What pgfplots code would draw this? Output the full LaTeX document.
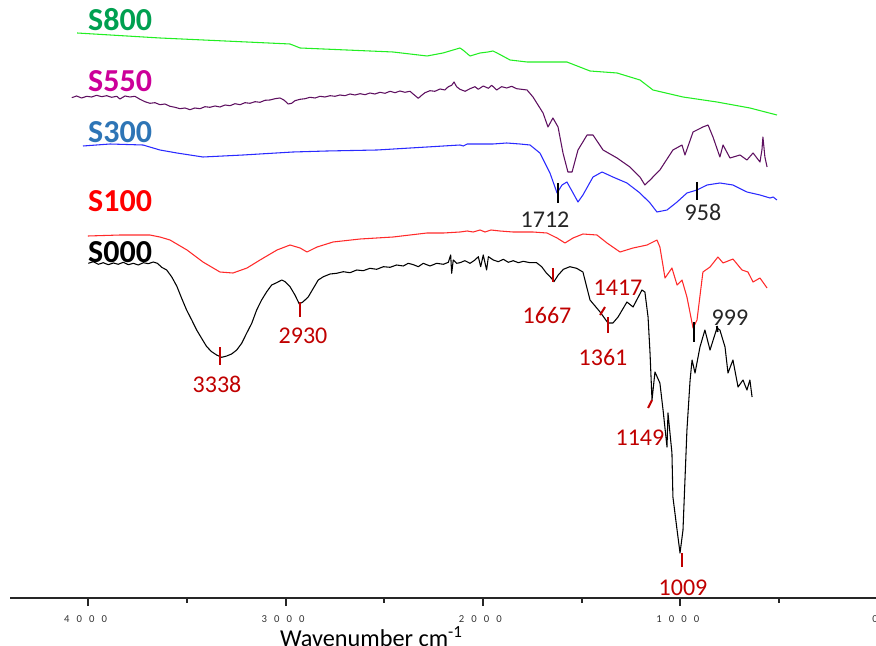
\documentclass[border=0pt]{standalone}
\usepackage{fontspec}
\setmainfont{Carlito}
\usepackage{pgfplots}
\pgfplotsset{compat=1.18}

\definecolor{lblgreen}{HTML}{00A050}
\definecolor{lblmagenta}{HTML}{CC0099}
\definecolor{lblblue}{HTML}{2E75B6}
\definecolor{peakred}{HTML}{C00000}
\definecolor{cSeight}{HTML}{22EE22}
\definecolor{cSfive}{HTML}{5E1060}
\definecolor{cSthree}{HTML}{2A2AFF}
\definecolor{cSone}{HTML}{FF2A2A}

\newcommand{\dg}{\hspace{5.3pt}}
\newcommand{\peakfont}{\fontsize{18}{18}\selectfont}
\newcommand{\namefont}{\fontsize{24}{24}\selectfont\bfseries}

% FTIR spectra, offset vertically (arbitrary transmittance units)
\pgfplotstableread{
wn y
4000 334.7
3975 336.3
3949 333.7
3924 335.3
3899 333.3
3873 335
3848 333.7
3823 335.7
3797 333.3
3772 334.7
3747 333
3721 335.3
3696 334.3
3671 336
3650 334.7
3628 330.7
3603 328
3578 321.3
3552 312
3527 299.7
3502 288
3476 278
3451 268
3426 259.7
3400 251.3
3375 246.3
3350 243
3324 240.7
3299 242
3274 244
3248 248
3223 254.7
3198 264.7
3172 274.7
3147 288
3122 298
3096 306.3
3071 313
3046 315.3
3020 318
3003 316.3
2978 311.3
2953 303
2931 294
2911 296.3
2885 301.3
2860 309.7
2835 318
2809 321.3
2775 324
2742 324.7
2708 326.3
2674 325.3
2640 328
2607 327.3
2573 329.7
2539 328.7
2505 331.3
2471 330.7
2438 333
2404 332
2379 334.7
2353 333.3
2328 331.3
2303 334.7
2269 332
2235 334.7
2201 333.7
2176 335.7
2164 343
2159 324.7
2151 338
2134 334.7
2117 335.3
2092 337.3
2066 334.7
2041 338
2024 341.3
2012 331.3
1999 343
1982 328
1973 341.3
1948 338
1923 336.3
1897 338.7
1872 335.7
1847 337.3
1821 335.3
1796 336.7
1762 335.3
1729 335.3
1703 331.3
1678 324.7
1653 319.7
1641 316.3
1619 323
1593 328.7
1560 331.3
1526 329.7
1494 326
1458 298
1407 286
1367 275
1342 275
1316 281
1271 296
1240 291
1195 308
1180 306
1164 281
1154 245
1144 198
1129 226
1104 215
1088 188
1068 151
1063 185
1043 145
1038 101
1017 68
1002 45
987 68
977 118
967 168
951 218
941 238
926 225
901 251
876 268
850 248
815 270
800 268
774 251
759 225
734 238
708 211
683 218
663 208
648 218
637 201
}\Szero

\pgfplotstableread{
wn y
4002 362
3839 363
3688 363
3637 361
3586 358
3500 348
3419 336
3333 326
3267 325
3196 330
3130 338
3044 348
2978 353
2927 350
2892 346
2841 351
2760 356
2623 359
2456 361
2284 365
2200 365
2117 366
2080 367
2050 366
2015 368
1990 366
1960 368
1914 367
1848 366
1747 366
1676 365
1625 360
1585 355
1544 360
1494 364
1423 363
1372 355
1306 346
1240 350
1169 353
1119 358
1104 351
1078 320
1043 330
1017 313
992 318
967 301
936 270
916 278
886 326
850 331
810 341
784 335
734 339
688 328
658 326
632 316
597 320
561 310
}\Sone

\pgfplotstableread{
wn y
4027 452
3890 454
3723 453
3637 448
3551 445
3419 441
3216 443
2963 446
2791 447
2537 448
2284 451
2117 453
2100 452
2080 454
1950 454
1880 455
1813 454
1762 453
1712 445
1661 425
1625 405
1600 413
1575 416
1544 405
1519 396
1494 403
1443 421
1397 426
1342 421
1271 415
1205 405
1154 395
1119 386
1068 388
1017 396
967 405
916 408
865 413
800 415
734 413
663 406
597 403
546 400
530 401
511 398
}\Sthree

\pgfplotstableread{
wn y
4084 500.3
4059 502
4034 500
4008 501.7
3983 501
3958 502.7
3932 501.3
3907 502.3
3882 500.7
3856 501.7
3840 499
3814 502
3789 501
3764 501.7
3738 498.7
3713 496.3
3688 494.7
3662 495.3
3637 493.3
3612 494
3586 491.7
3561 490.7
3536 489.3
3510 490
3485 488.3
3460 490
3434 489.3
3409 491.3
3384 490.7
3358 492
3333 491
3307 493
3282 492.3
3257 494.3
3231 493.3
3206 495.3
3181 494.7
3155 496.3
3130 495.7
3105 497.7
3080 498
3054 499.3
3029 500
3009 498
2987 494
2970 494.7
2953 497.3
2927 498.7
2902 499.3
2877 500.7
2851 500
2826 501.7
2801 501
2775 502.3
2750 501.7
2725 503
2700 502.3
2674 504
2649 503
2623 504.3
2598 503.3
2573 505
2548 504
2522 505.7
2497 504.7
2471 506.7
2446 505.3
2421 507
2396 505.7
2370 506.7
2350 503.3
2328 499.7
2311 502.7
2294 505.3
2269 507.3
2244 506.7
2218 509
2193 508
2176 511.3
2159 512.7
2147 516
2134 511.3
2117 508.7
2091 506.7
2066 509.3
2041 511.3
2024 508.7
1999 512
1973 509.7
1956 512.7
1931 508
1906 511.3
1880 510
1855 511.7
1830 509.3
1777 508
1747 501
1696 485
1671 471
1646 480
1620 471
1595 445
1570 426
1549 426
1519 448
1473 463
1443 463
1392 448
1321 440
1256 431
1205 421
1180 413
1154 418
1104 428
1038 448
992 453
977 443
936 466
886 471
860 473
835 461
800 441
784 453
749 440
698 443
663 438
632 445
597 436
587 448
582 461
572 441
561 431
}\Sfive

\pgfplotstableread{
wn y
4057 565
3637 560
2978 554
2927 550
2456 546
2284 542
2203 545
2117 550
2102 548
2066 542
2015 545
1975 546
1950 547
1929 545
1863 538
1777 536
1661 536
1575 536
1458 527
1321 525
1205 518
1139 508
987 501
815 496
648 490
511 483
}\Seight

\begin{document}
\begin{tikzpicture}
\begin{axis}[
  scale only axis,
  width=650.85pt, height=448.5pt,
  x dir=reverse,
  xmin=0, xmax=4397, ymin=0, ymax=598,
  axis x line*=bottom, axis y line=none,
  axis line style={line width=1.1pt, black!85, -},
  xtick={0,1000,2000,3000,4000},
  xticklabels={0, 1\dg0\dg0\dg0, 2\dg0\dg0\dg0, 3\dg0\dg0\dg0, 4\dg0\dg0\dg0},
  minor xtick={500,1500,2500,3500},
  tick align=outside,
  major tick length=6pt, minor tick length=3.5pt,
  tick style={black!85, line width=1.5pt},
  xticklabel style={font=\fontsize{8}{8}\selectfont, text=black!80, anchor=center, yshift=-10pt, xshift=-2pt},
  ytick=\empty,
  xlabel={Wavenumber cm\textsuperscript{-1}},
  xlabel style={font=\fontsize{18.2}{20}\selectfont, at={(axis description cs:0.4165,-0.0645)}, anchor=center},
  clip=false,
  enlargelimits=false,
  every axis plot/.append style={line width=0.8pt, line join=round},
]
\addplot[cSeight] table[x=wn, y=y] {\Seight};
\addplot[cSfive] table[x=wn, y=y] {\Sfive};
\addplot[cSthree] table[x=wn, y=y] {\Sthree};
\addplot[cSone] table[x=wn, y=y] {\Sone};
\addplot[black] table[x=wn, y=y] {\Szero};

% sample names
\node[text=lblgreen, font=\namefont] at (axis cs:3839,578) {S800};
\node[text=lblmagenta, font=\namefont] at (axis cs:3839,517) {S550};
\node[text=lblblue, font=\namefont] at (axis cs:3839,466) {S300};
\node[text=red, font=\namefont] at (axis cs:3839,397) {S100};
\node[text=black, font=\namefont] at (axis cs:3839,346) {S000};

% band markers on S000
\begin{scope}[peakred, line width=1.5pt]
\draw (axis cs:3333,251) -- (axis cs:3333,233);
\draw (axis cs:2927,296) -- (axis cs:2927,281);
\draw (axis cs:1646,330) -- (axis cs:1646,316);
\draw (axis cs:1407,283) -- (axis cs:1382,291);
\draw (axis cs:1367,281) -- (axis cs:1367,265);
\draw (axis cs:1164,190) -- (axis cs:1144,198);
\draw (axis cs:992,45) -- (axis cs:992,31);
\end{scope}
\begin{scope}[black, line width=1.5pt]
\draw (axis cs:1620,415) -- (axis cs:1620,395);
\draw (axis cs:916,416) -- (axis cs:916,398);
\draw (axis cs:931,276) -- (axis cs:931,256);
\draw (axis cs:815,272) -- (axis cs:812,266);
\end{scope}

\node[text=peakred, font=\peakfont] at (axis cs:3348,214) {3338};
\node[text=peakred, font=\peakfont] at (axis cs:2912,262) {2930};
\node[text=peakred, font=\peakfont] at (axis cs:1676,283) {1667};
\node[text=peakred, font=\peakfont] at (axis cs:1316,310) {1417};
\node[text=peakred, font=\peakfont] at (axis cs:1392,241) {1361};
\node[text=peakred, font=\peakfont] at (axis cs:1205,160) {1149};
\node[text=peakred, font=\peakfont] at (axis cs:987,10) {1009};
\node[text=black!85, font=\peakfont] at (axis cs:749,280) {999};
\node[text=black!85, font=\peakfont] at (axis cs:886,386) {958};
\node[text=black!85, font=\peakfont] at (axis cs:1686,378) {1712};

\coordinate (bbA) at (axis cs:4447.5,598);
\coordinate (bbB) at (axis cs:9.1,-47);
\end{axis}
\pgfresetboundingbox
\useasboundingbox (bbA) rectangle (bbB);
\end{tikzpicture}
\end{document}
